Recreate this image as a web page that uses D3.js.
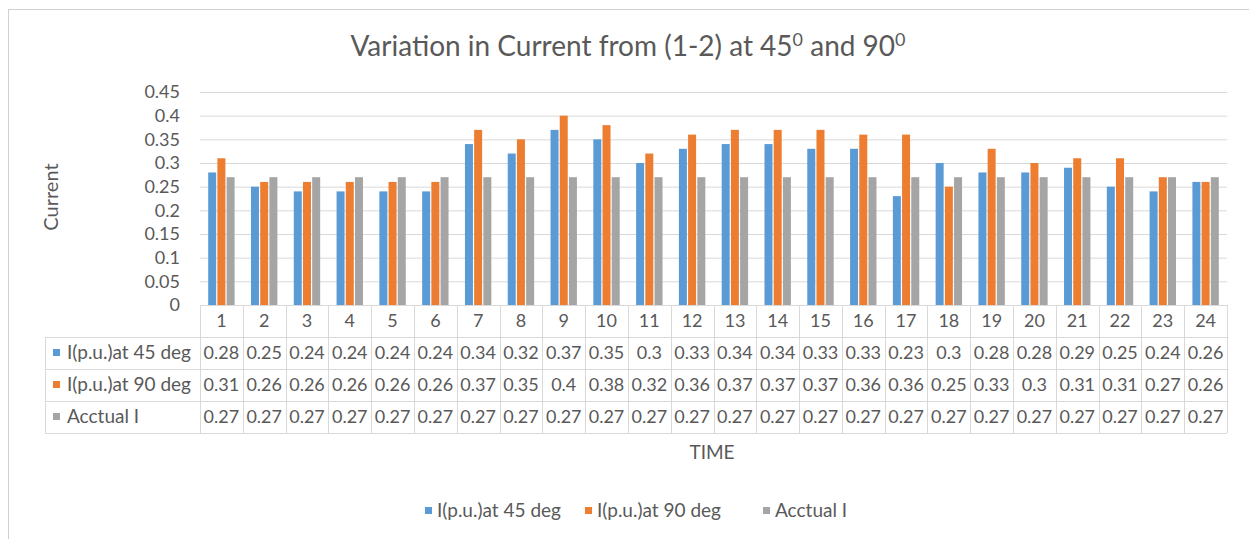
<!DOCTYPE html>
<html>
<head>
<meta charset="utf-8">
<script src="https://cdn.jsdelivr.net/npm/d3@7"></script>
<style>
  html, body { margin: 0; padding: 0; background: #fff; }
  svg { display: block; font-family: Lato, "Open Sans", sans-serif; }
</style>
</head>
<body>
<svg id="chart" width="1249" height="539"></svg>
<script>
// Time steps 1..24 and the three current series (p.u.)
const categories = d3.range(1, 25).map(String);
const seriesNames = ["I(p.u.)at 45 deg", "I(p.u.)at 90 deg", "Acctual I"];
const i45 = [0.28,0.25,0.24,0.24,0.24,0.24,0.34,0.32,0.37,0.35,0.3,0.33,0.34,0.34,0.33,0.33,0.23,0.3,0.28,0.28,0.29,0.25,0.24,0.26];
const i90 = [0.31,0.26,0.26,0.26,0.26,0.26,0.37,0.35,0.4,0.38,0.32,0.36,0.37,0.37,0.37,0.36,0.36,0.25,0.33,0.3,0.31,0.31,0.27,0.26];
const iActual = [0.27,0.27,0.27,0.27,0.27,0.27,0.27,0.27,0.27,0.27,0.27,0.27,0.27,0.27,0.27,0.27,0.27,0.27,0.27,0.27,0.27,0.27,0.27,0.27];
const yTicks = [0,0.05,0.1,0.15,0.2,0.25,0.3,0.35,0.4,0.45];
const colors = ["#5B9BD5", "#ED7D31", "#A5A5A5"];
const series = [i45, i90, iActual];

const svg = d3.select("#chart");
const textColor = "#595959";
const gridColor = "#D9D9D9";
const fs = 18;
const nameFs = 19;

// Chart frame
svg.append("rect").attr("x", 8.5).attr("y", 9.5).attr("width", 1260).attr("height", 560)
  .attr("fill", "none").attr("stroke", "#D0D0D0");

// Plot area
const plot = { left: 200, right: 1227, top: 92, bottom: 305 };
const x = d3.scaleBand().domain(categories).range([plot.left, plot.right]).paddingInner(0).paddingOuter(0);
const y = d3.scaleLinear().domain([0, 0.45]).range([plot.bottom, plot.top]);
const barW = 8, barStep = 9.2;
const xs = d3.scaleBand().domain(d3.range(3)).range([0, barStep * 3]);

// Title
const title = svg.append("text").attr("x", 628).attr("y", 56).attr("text-anchor", "middle")
  .attr("fill", textColor).attr("font-size", 28);
title.append("tspan").text("Variation in Current from (1-2) at 45");
title.append("tspan").attr("dy", -10).attr("font-size", 18).text("0");
title.append("tspan").attr("dy", 10).text(" and 90");
title.append("tspan").attr("dy", -10).attr("font-size", 18).text("0");

// Gridlines and y axis labels
const yAxis = d3.axisLeft(y).tickValues(yTicks).tickSize(-(plot.right - plot.left)).tickFormat(d => String(+d.toFixed(2)));
const gy = svg.append("g").attr("transform", `translate(${plot.left},0)`).call(yAxis);
gy.select(".domain").remove();
gy.selectAll(".tick line").attr("stroke", gridColor);
gy.selectAll(".tick text").attr("fill", textColor).attr("font-size", fs).attr("x", -20)
  .style("font-family", "Lato, 'Open Sans', sans-serif");

// Y axis title
svg.append("text").attr("transform", "translate(58,197) rotate(-90)").attr("text-anchor", "middle")
  .attr("fill", textColor).attr("font-size", 20).text("Current");

// Bars
series.forEach((vals, si) => {
  svg.append("g").selectAll("rect").data(vals).join("rect")
    .attr("x", (d, i) => x(categories[i]) + (x.bandwidth() - barStep * 3) / 2 + xs(si) + (barStep - barW) / 2)
    .attr("width", barW)
    .attr("y", d => y(d))
    .attr("height", d => y(0) - y(d))
    .attr("fill", colors[si]);
});

// Data table below the axis
const tableLeft = 45;
const rowH = 32;
const headerTop = plot.bottom, headerBottom = 337;
const lineColor = "#D9D9D9";
const tbl = svg.append("g");

// Horizontal lines
tbl.append("line").attr("x1", plot.left).attr("x2", plot.right).attr("y1", headerTop + 0.5).attr("y2", headerTop + 0.5).attr("stroke", lineColor);
[0, 1, 2, 3].forEach(r => {
  const yy = headerBottom + r * rowH + 0.5;
  tbl.append("line").attr("x1", tableLeft).attr("x2", plot.right).attr("y1", yy).attr("y2", yy).attr("stroke", lineColor);
});
// Vertical lines
categories.concat(["end"]).forEach((c, i) => {
  const xx = Math.round(plot.left + i * x.bandwidth()) + 0.5;
  tbl.append("line").attr("x1", xx).attr("x2", xx).attr("y1", headerTop).attr("y2", headerBottom + 3 * rowH).attr("stroke", lineColor);
});
tbl.append("line").attr("x1", tableLeft + 0.5).attr("x2", tableLeft + 0.5).attr("y1", headerBottom).attr("y2", headerBottom + 3 * rowH).attr("stroke", lineColor);

// Category labels
tbl.selectAll("text.cat").data(categories).join("text").attr("class", "cat")
  .attr("x", d => x(d) + x.bandwidth() / 2).attr("y", (headerTop + headerBottom) / 2 + 6)
  .attr("text-anchor", "middle").attr("fill", textColor).attr("font-size", fs).text(d => d);

// Series rows
series.forEach((vals, si) => {
  const rowMid = headerBottom + si * rowH + rowH / 2;
  tbl.append("rect").attr("x", 53).attr("y", rowMid - 4).attr("width", 7).attr("height", 7).attr("fill", colors[si]);
  tbl.append("text").attr("x", 67).attr("y", rowMid + 6).attr("fill", textColor).attr("font-size", nameFs).text(seriesNames[si]);
  tbl.selectAll(null).data(vals).join("text")
    .attr("x", (d, i) => x(categories[i]) + x.bandwidth() / 2).attr("y", rowMid + 6)
    .attr("text-anchor", "middle").attr("fill", textColor).attr("font-size", fs)
    .text(d => String(d));
});

// X axis title
svg.append("text").attr("x", 712).attr("y", 459).attr("text-anchor", "middle")
  .attr("fill", textColor).attr("font-size", 19).text("TIME");

// Legend
const legendX = [425, 585, 763];
seriesNames.forEach((name, i) => {
  const g = svg.append("g").attr("transform", `translate(${legendX[i]},511)`);
  g.append("rect").attr("x", 0).attr("y", -4).attr("width", 7).attr("height", 7).attr("fill", colors[i]);
  g.append("text").attr("x", 12).attr("y", 6).attr("fill", textColor).attr("font-size", nameFs).text(name);
});
</script>
</body>
</html>
